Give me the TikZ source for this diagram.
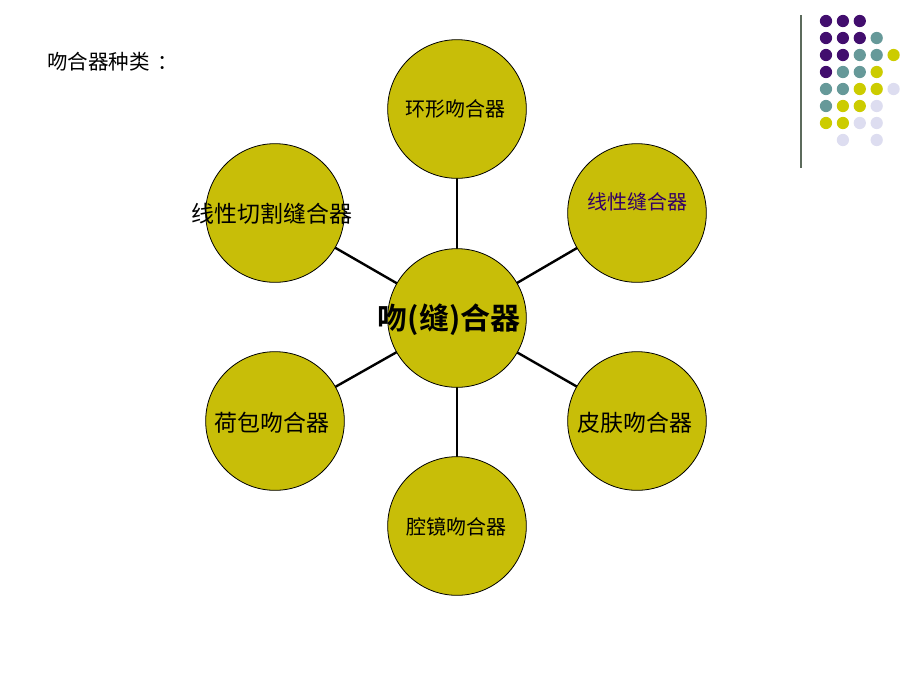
\documentclass[tikz,border=0pt]{standalone}
\usepackage{fontspec}
\newfontfamily\cjk{Noto Sans CJK SC}
\newfontfamily\cjkb{Noto Sans CJK SC Bold}
\definecolor{circ}{RGB}{200,190,8}
\definecolor{dP}{RGB}{66,14,110}
\definecolor{dT}{RGB}{102,153,153}
\definecolor{dY}{RGB}{204,204,0}
\definecolor{dL}{RGB}{221,221,240}
\definecolor{vline}{RGB}{92,107,92}
\definecolor{txtP}{RGB}{51,0,102}
\begin{document}
\begin{tikzpicture}[x=0.75pt,y=-0.75pt,
  bub/.style={circle,draw=black,line width=0.6pt,fill=circ,minimum size=104pt,inner sep=0pt},
  conn/.style={draw=black,line width=1.8pt},
  lbl/.style={font=\cjk\fontsize{15}{15}\selectfont,text=black},
  lblb/.style={font=\cjk\fontsize{17.2}{17.2}\selectfont,text=black},
  dot/.style={circle,inner sep=0pt,minimum size=9.2pt}]
\useasboundingbox[fill=white] (0,0) rectangle (920,690);
% connectors first (behind)
\coordinate (cc) at (457,318);
\coordinate (ct) at (457,109);
\coordinate (cb) at (457,526);
\coordinate (ctl) at (275,213);
\coordinate (ctr) at (637,213);
\coordinate (cbl) at (275,421);
\coordinate (cbr) at (637,421);
\foreach \p in {ct,cb,ctl,ctr,cbl,cbr} {\draw[conn] (cc) -- (\p);}
% circles
\node[bub] (top) at (ct) {};
\node[bub] (bot) at (cb) {};
\node[bub] (tl) at (ctl) {};
\node[bub] (tr) at (ctr) {};
\node[bub] (bl) at (cbl) {};
\node[bub] (br) at (cbr) {};
\node[bub] (ctr0) at (cc) {};
% labels
\node[lbl] (ttop) at (455,109) {环形吻合器};
\node[lbl,text=txtP] (ttr) at (637,202) {线性缝合器};
\node[lblb] (ttl) at (272,214) {线性切割缝合器};
\node[lblb] (tbl) at (272,423) {荷包吻合器};
\node[lblb] (tbr) at (635,423) {皮肤吻合器};
\node[lbl] (tbot) at (456,527) {腔镜吻合器};
\node[font=\cjkb\fontsize{22.5}{22.5}\selectfont] (tc) at (449,320) {吻(缝)合器};
\node[font=\cjk\fontsize{15.4}{15.4}\selectfont,anchor=west,inner sep=0pt] (title) at (47,62) {吻合器种类\hspace{6pt}：};
% decorative dots
\draw[vline,line width=1.6pt] (801,15) -- (801,168);
\foreach \c/\r/\col in {1/1/dP,2/1/dP,3/1/dP,
  1/2/dP,2/2/dP,3/2/dP,4/2/dT,
  1/3/dP,2/3/dP,3/3/dT,4/3/dT,5/3/dY,
  1/4/dP,2/4/dT,3/4/dT,4/4/dY,
  1/5/dT,2/5/dT,3/5/dY,4/5/dY,5/5/dL,
  1/6/dT,2/6/dY,3/6/dY,4/6/dL,
  1/7/dY,2/7/dY,3/7/dL,4/7/dL,
  2/8/dL,4/8/dL}
  {\node[dot,fill=\col] (d\c\r) at ({826+16.9*(\c-1)},{21+17*(\r-1)}) {};}
\end{tikzpicture}
\end{document}
